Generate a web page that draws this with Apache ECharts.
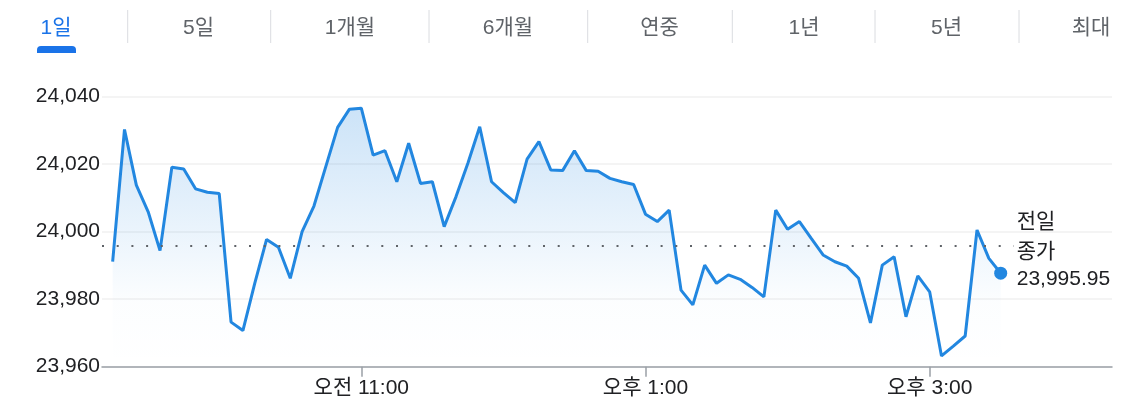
<!DOCTYPE html>
<html>
<head>
<meta charset="utf-8">
<script src="https://cdn.jsdelivr.net/npm/echarts@6/dist/echarts.min.js"></script>
<style>
html,body{margin:0;padding:0;background:#fff;}
#chart{width:1141px;height:414px;}
</style>
</head>
<body>
<div id="chart"></div>
<script>
// ---- data ----
const times = [
 '09:15','09:20','09:25','09:30','09:35','09:40','09:45','09:50','09:55','10:00',
 '10:05','10:10','10:15','10:20','10:25','10:30','10:35','10:40','10:45','10:50',
 '10:55','11:00','11:05','11:10','11:15','11:20','11:25','11:30','11:35','11:40',
 '11:45','11:50','11:55','12:00','12:05','12:10','12:15','12:20','12:25','12:30',
 '12:35','12:40','12:45','12:50','12:55','13:00','13:05','13:10','13:15','13:20',
 '13:25','13:30','13:35','13:40','13:45','13:50','13:55','14:00','14:05','14:10',
 '14:15','14:20','14:25','14:30','14:35','14:40','14:45','14:50','14:55','15:00',
 '15:05','15:10','15:15','15:20','15:25','15:30'
];
const prices = [
 23991.1,24030.3,24013.8,24005.9,23994.4,24019.1,24018.6,24012.7,24011.7,24011.3,
 23973.2,23970.7,23984.7,23997.7,23995.4,23986.2,24000.0,24007.6,24019.3,24030.9,
 24036.3,24036.6,24022.7,24024.0,24014.8,24026.2,24014.3,24014.8,24001.5,24010.4,
 24020.3,24031.1,24014.8,24011.6,24008.6,24021.5,24026.7,24018.3,24018.1,24024.0,
 24018.1,24017.9,24015.8,24014.8,24014.0,24005.2,24003.0,24006.4,23982.7,23978.3,
 23990.1,23984.7,23987.2,23985.9,23983.5,23980.7,24006.4,24000.7,24003.0,23998.0,
 23993.1,23991.1,23989.8,23986.2,23973.0,23990.1,23992.6,23974.8,23986.9,23982.2,
 23963.2,23966.1,23969.1,24000.5,23992.1,23987.7
];
const previousClose = 23995.95;
const prevCloseLabel = ['전일', '종가'];
const xTickTimes = ['11:00', '13:00', '15:00'];
const xTickLabels = ['오전 11:00', '오후 1:00', '오후 3:00'];
const yTicks = [23960, 23980, 24000, 24020, 24040];
const tabs = ['1일', '5일', '1개월', '6개월', '연중', '1년', '5년', '최대'];

// ---- helpers ----
const toMin = t => { const [h, m] = t.split(':').map(Number); return h * 60 + m; };
const seriesData = times.map((t, i) => [toMin(t), prices[i]]);
const tickMins = xTickTimes.map(toMin);
const lastIdx = prices.length - 1;
const FONT = "'Liberation Sans', Arial, 'Noto Sans CJK KR', sans-serif";
const FS = 21;

// tabs layout (visual only)
const tabCenters = [56, 198.5, 350, 508, 659.5, 804, 946.5, 1091];
const sepX = [127.7, 270.7, 429, 587.7, 732.3, 875, 1019];
const graphics = [];
tabs.forEach((t, i) => {
  graphics.push({
    type: 'text', x: tabCenters[i], y: 28,
    style: { text: t, font: FS + 'px ' + FONT, fill: i === 0 ? '#1a73e8' : '#5f6368',
             align: 'center', verticalAlign: 'middle' }
  });
});
sepX.forEach(x => {
  graphics.push({ type: 'line', shape: { x1: x, y1: 10, x2: x, y2: 43 },
                  style: { stroke: '#dadce0', lineWidth: 1 } });
});
graphics.push({ type: 'rect', shape: { x: 37, y: 46, width: 39, height: 7, r: [4, 4, 0, 0] },
                style: { fill: '#1a73e8' } });

const chart = echarts.init(document.getElementById('chart'), null, { renderer: 'canvas' });
chart.setOption({
  animation: false,
  backgroundColor: '#fff',
  graphic: graphics,
  grid: { left: 102, right: 29, top: 96.7, bottom: 47.3 },
  xAxis: {
    type: 'value', min: 550.5, max: 977,
    axisLine: { show: true, lineStyle: { color: '#9aa0a6', width: 1.5 } },
    axisTick: { show: true, customValues: tickMins, length: 10, lineStyle: { color: '#9aa0a6', width: 1.5 } },
    axisLabel: {
      customValues: tickMins, color: '#202124', fontSize: FS, fontFamily: FONT, margin: 11,
      formatter: v => xTickLabels[tickMins.indexOf(v)] || ''
    },
    splitLine: { show: false }
  },
  yAxis: {
    type: 'value', min: yTicks[0], max: yTicks[yTicks.length - 1], interval: 20,
    axisLine: { show: false }, axisTick: { show: false },
    axisLabel: { color: '#202124', fontSize: FS, fontFamily: FONT, margin: 2,
                 formatter: v => v.toLocaleString('en-US') },
    splitLine: { lineStyle: { color: '#f0f0f0', width: 1.5 } }
  },
  series: [{
    type: 'line',
    data: seriesData,
    showSymbol: true, showAllSymbol: true,
    symbol: 'circle',
    symbolSize: (v, p) => p.dataIndex === lastIdx ? 13 : 0,
    itemStyle: { color: '#2287e0' },
    lineStyle: { color: '#2287e0', width: 3 },
    areaStyle: {
      origin: 'start',
      color: new echarts.graphic.LinearGradient(0, 0, 0, 1, [
        { offset: 0, color: 'rgba(34,135,224,0.33)' },
        { offset: 0.75, color: 'rgba(34,135,224,0.02)' },
        { offset: 1, color: 'rgba(34,135,224,0)' }
      ])
    },
    z: 3,
    markLine: {
      silent: true, symbol: 'none',
      lineStyle: { color: '#5f6368', type: [2, 12.7], width: 2 },
      label: {
        show: true, position: 'end', distance: 3, offset: [0, 4],
        formatter: () => '{a|' + prevCloseLabel[0] + '}\n{a|' + prevCloseLabel[1] + '}\n{b|' +
          previousClose.toLocaleString('en-US', { minimumFractionDigits: 2 }) + '}',
        rich: {
          a: { fontSize: FS, fontFamily: FONT, color: '#202124', lineHeight: 30, align: 'left' },
          b: { fontSize: FS, fontFamily: FONT, color: '#202124', lineHeight: 24, align: 'left' }
        },
        align: 'left', verticalAlign: 'middle'
      },
      data: [[{ coord: [550.5, previousClose] }, { coord: [935.5, previousClose] }]]
    }
  }]
});
</script>
</body>
</html>
